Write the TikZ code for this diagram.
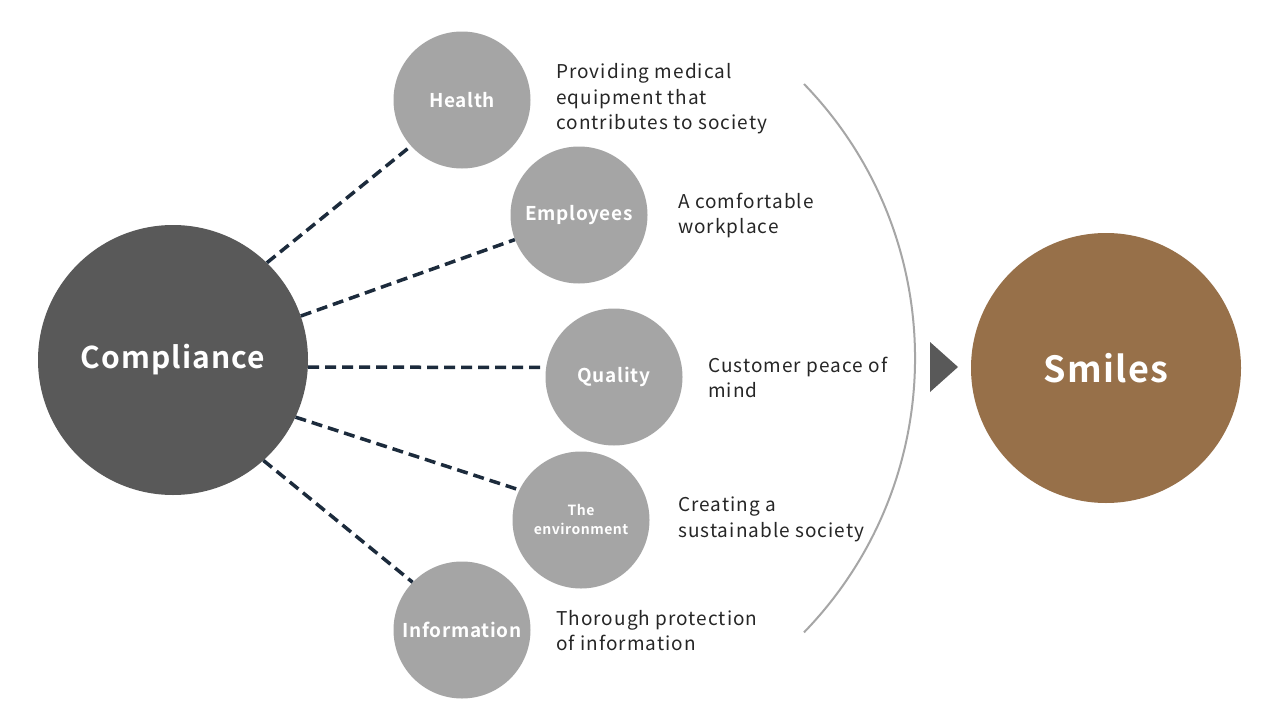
\documentclass[tikz,border=0pt]{standalone}
\usepackage{fontspec}
\setmainfont{Noto Sans CJK JP}
\newfontfamily\descfont[LetterSpace=5.5]{Noto Sans CJK JP}
\newfontfamily\labfont[LetterSpace=3.5]{Noto Sans CJK JP Bold}
\definecolor{compc}{HTML}{595959}
\definecolor{smallc}{HTML}{A5A5A5}
\definecolor{smilec}{HTML}{977049}
\definecolor{dashc}{HTML}{1C2B3C}
\definecolor{arcc}{HTML}{A6A6A6}
\definecolor{textc}{HTML}{262626}
\tikzset{
  bigcirc/.style={circle, minimum size=270pt, inner sep=0pt, text=white},
  smallcirc/.style={circle, fill=smallc, minimum size=137pt, inner sep=0pt, text=white, font=\labfont\fontsize{19}{22}\selectfont, align=center},
  desc/.style={anchor=west, align=left, inner sep=0pt, text=textc, font=\descfont\fontsize{19}{25.5}\selectfont},
  link/.style={draw=dashc, line width=3.5pt, dash pattern=on 11pt off 6pt}
}
\begin{document}
\begin{tikzpicture}[x=1pt,y=-1pt]
\useasboundingbox[fill=white] (0,0) rectangle (1280,720);
% arc
\draw[arcc, line width=2pt] (804,84) arc[start angle=-44.1, end angle=44.1, radius=394];
% main circles
\node[bigcirc, fill=compc, font=\labfont\fontsize{30}{36}\selectfont] (comp) at (173,360) {Compliance};
\node[bigcirc, fill=smilec, font=\labfont\fontsize{36}{42}\selectfont] (smiles) at (1106,368) {Smiles};
% small circles
\node[smallcirc] (health) at (462,100) {Health};
\node[smallcirc] (empl) at (579,215) {Employees};
\node[smallcirc] (qual) at (614,377) {Quality};
\node[smallcirc, font=\labfont\fontsize{14}{19}\selectfont] (env) at (581,520) {The\\environment};
\node[smallcirc] (info) at (462,630) {Information};
% connectors
\draw[link] (comp.46) -- (health.222);
\draw[link] (comp.19.5) -- (empl.201.6);
\draw[link] (comp.-3.4) -- (qual.172.5);
\draw[link] (comp.-25.3) -- (env.154.6);
\draw[link] (comp.-48.9) -- (info.136.8);
% triangle
\fill[compc] (930,342) -- (958,367) -- (930,392) -- cycle;
% descriptions
\node[desc] (d1) at (556,99) {Providing medical\\equipment that\\contributes to society};
\node[desc] (d2) at (678,215.5) {A comfortable\\workplace};
\node[desc] (d3) at (708,377.5) {Customer peace of\\mind};
\node[desc] (d4) at (678,519.5) {Creating a\\sustainable society};
\node[desc] (d5) at (556,630.5) {Thorough protection\\of information};
\end{tikzpicture}
\end{document}
